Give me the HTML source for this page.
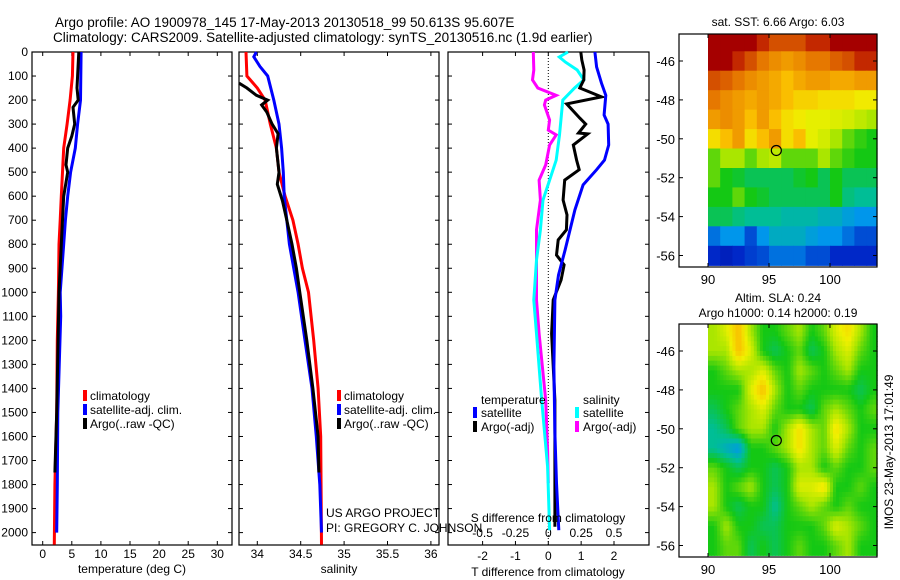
<!DOCTYPE html>
<html><head><meta charset="utf-8"><style>
body{margin:0;background:#fff}
svg{display:block;font-family:"Liberation Sans",sans-serif}
text{fill:#000}
</style></head><body>
<svg id="fig" width="900" height="580" viewBox="0 0 900 580">
<text x="55" y="27" font-size="13.5">Argo profile: AO 1900978_145 17-May-2013 20130518_99 50.613S 95.607E</text>
<text x="53" y="42" font-size="13.5">Climatology: CARS2009. Satellite-adjusted climatology: synTS_20130516.nc (1.9d earlier)</text>
<g id="g"></g>
</svg>
<script>
// ---- data ----
const tClimD=[0,100,200,300,400,500,600,700,800,1000,1200,1500,1800,2050];
const tClimV=[5.2,5.1,4.7,4.2,3.6,3.4,3.2,3.0,2.8,2.7,2.5,2.4,2.1,2.0];
const tSatD=[0,200,300,400,500,600,700,800,1000,1100,1500,1800,2000];
const tSatV=[6.6,6.5,6.0,5.6,4.8,4.3,3.9,3.6,3.0,3.1,2.6,2.5,2.4];
const tArgoD=[0,100,150,200,230,300,350,400,470,500,600,800,1000,1500,1750];
const tArgoV=[6.2,6.0,5.9,6.1,5.2,5.5,5.0,4.3,4.0,4.3,3.6,3.2,2.8,2.4,2.1];
const sClimD=[0,100,150,200,300,400,500,600,700,800,900,1000,1200,1400,1600,2050];
const sClimV=[33.87,33.88,34.0,34.09,34.15,34.22,34.25,34.32,34.41,34.47,34.52,34.59,34.65,34.70,34.73,34.74];
const sSatD=[0,20,60,100,200,300,400,500,600,700,800,1000,1200,1400,1600,1800,2000];
const sSatV=[33.99,33.96,34.03,34.12,34.19,34.25,34.28,34.30,34.31,34.34,34.37,34.47,34.55,34.63,34.68,34.72,34.74];
const sArgoD=[130,150,180,200,220,250,300,340,400,500,550,620,700,800,900,1000,1200,1400,1600,1750];
const sArgoV=[33.79,33.88,33.99,34.12,34.05,34.11,34.17,34.24,34.22,34.25,34.23,34.29,34.34,34.40,34.45,34.49,34.57,34.64,34.70,34.71];
const dtSatD=[0,62,130,180,262,300,387,450,490,553,657,824,928,1032,1310,1586,1794,1990];
const dtSatV=[1.42,1.47,1.62,1.75,1.7,1.82,1.84,1.71,1.47,1.06,0.81,0.51,0.31,0.2,0.17,0.2,0.25,0.32];
const dtArgoD=[0,33,75,116,150,187,216,275,300,337,341,387,450,490,533,616,678,740,782,845,886,949,1032,1172,1449,1726,1976];
const dtArgoV=[0.99,1.02,1.09,1.08,0.96,1.62,0.56,0.96,1.14,0.92,1.2,0.76,0.86,0.94,0.5,0.45,0.57,0.55,0.3,0.25,0.48,0.39,0.15,0.1,0.2,0.2,0.2];
const dsSatD=[0,21,42,75,116,150,200,262,345,450,533,616,740,866,1032,1172,1449,1726,1990];
const dsSatV=[0.15,0.084,0.13,0.22,0.27,0.2,0.11,0.1,0.085,0.06,0.01,-0.04,-0.06,-0.09,-0.11,-0.09,-0.05,-0.005,0.01];
const dsArgoD=[0,75,116,150,180,200,220,283,325,345,387,470,533,616,740,866,1032,1172,1449,1657,1794];
const dsArgoV=[-0.114,-0.11,-0.12,-0.08,0.06,-0.02,-0.03,0.01,0.0,0.06,0.01,-0.02,-0.07,-0.06,-0.09,-0.09,-0.09,-0.07,-0.02,-0.005,0.0];
const depthTicks=[0,100,200,300,400,500,600,700,800,900,1000,1100,1200,1300,1400,1500,1600,1700,1800,1900,2000];
const tTicks=[0,5,10,15,20,25,30];
const sTicks=[34,34.5,35,35.5,36];
const dtTicks=[-2,-1,0,1,2];
const dsTicks=[-0.5,-0.25,0,0.25,0.5];
const dsTickLabels=["-0.5","-0.25","0","0.25","0.5"];
const lonTicks=[90,95,100];
const latTicks=[-46,-48,-50,-52,-54,-56];
const mapLats=[-45,-46,-47,-48,-49,-50,-51,-52,-53,-54,-55,-56];
const mapLons=[90,91,92,93,94,95,96,97,98,99,100,101,102,103];
const sstGrid=[
[1,1,1,1,0.95,0.9,0.9,0.9,0.95,0.95,1,1,1,1],
[1,1,0.95,0.9,0.85,0.82,0.8,0.82,0.85,0.85,0.88,0.9,0.95,0.95],
[0.9,0.88,0.85,0.82,0.8,0.78,0.75,0.78,0.8,0.8,0.78,0.78,0.8,0.8],
[0.85,0.82,0.8,0.78,0.8,0.78,0.75,0.72,0.72,0.7,0.7,0.7,0.68,0.68],
[0.8,0.82,0.8,0.75,0.8,0.75,0.7,0.68,0.66,0.66,0.65,0.64,0.62,0.6],
[0.7,0.75,0.8,0.7,0.75,0.8,0.7,0.75,0.66,0.64,0.6,0.55,0.52,0.5],
[0.55,0.6,0.6,0.55,0.6,0.62,0.55,0.55,0.55,0.6,0.55,0.52,0.5,0.5],
[0.55,0.5,0.48,0.45,0.45,0.45,0.45,0.48,0.5,0.45,0.5,0.45,0.45,0.45],
[0.5,0.5,0.55,0.5,0.48,0.45,0.45,0.45,0.45,0.45,0.5,0.42,0.4,0.4],
[0.45,0.45,0.42,0.4,0.4,0.4,0.38,0.38,0.38,0.36,0.35,0.32,0.3,0.3],
[0.25,0.3,0.3,0.2,0.3,0.35,0.35,0.35,0.32,0.3,0.3,0.25,0.2,0.2],
[0.15,0.12,0.15,0.18,0.2,0.25,0.25,0.25,0.2,0.2,0.15,0.15,0.15,0.15]];
const slaGrid=[
[0.6,0.65,0.75,0.6,0.5,0.5,0.55,0.6,0.5,0.55,0.65,0.7,0.6,0.5],
[0.6,0.6,0.75,0.65,0.5,0.45,0.5,0.55,0.45,0.5,0.6,0.65,0.55,0.5],
[0.5,0.55,0.6,0.6,0.65,0.55,0.5,0.6,0.55,0.5,0.55,0.6,0.5,0.5],
[0.5,0.5,0.5,0.65,0.75,0.6,0.5,0.55,0.5,0.5,0.5,0.5,0.45,0.5],
[0.45,0.5,0.55,0.6,0.65,0.55,0.5,0.5,0.45,0.55,0.6,0.55,0.5,0.55],
[0.4,0.45,0.55,0.6,0.6,0.5,0.6,0.7,0.6,0.55,0.7,0.6,0.5,0.5],
[0.4,0.35,0.3,0.5,0.5,0.55,0.6,0.7,0.6,0.55,0.65,0.55,0.5,0.55],
[0.55,0.5,0.45,0.5,0.5,0.45,0.5,0.6,0.6,0.5,0.55,0.5,0.5,0.55],
[0.6,0.5,0.55,0.6,0.5,0.45,0.5,0.65,0.65,0.7,0.5,0.5,0.55,0.5],
[0.6,0.5,0.45,0.5,0.5,0.4,0.5,0.55,0.6,0.55,0.5,0.55,0.5,0.5],
[0.5,0.6,0.5,0.5,0.45,0.45,0.5,0.5,0.5,0.55,0.65,0.6,0.55,0.5],
[0.5,0.55,0.55,0.45,0.5,0.45,0.5,0.55,0.5,0.5,0.55,0.6,0.5,0.5]];
const argoLon=95.6, argoLat=-50.6;

// ---- drawing ----
const NS='http://www.w3.org/2000/svg';
const G=document.getElementById('g');
function mk(tag,at,parent){const e=document.createElementNS(NS,tag);for(const k in at)e.setAttribute(k,at[k]);(parent||G).appendChild(e);return e;}
const yD=d=>52+d*0.2403;
const xT=v=>42.7+v*5.82;
const xS=v=>257.3+(v-34)*86.8;
const xDT=v=>548.3+v*32.85;
const xDS=v=>548.3+v*131.4;

function frame(x0,x1,y0,y1,name){
  const r=mk('rect',{x:x0,y:y0,width:x1-x0,height:y1-y0,fill:'none',stroke:'#000','stroke-width':1.2});
  
  
}
function line(ds,vs,xf,col,name){
  const p=mk('polyline',{points:ds.map((d,i)=>xf(vs[i]).toFixed(1)+','+yD(d).toFixed(1)).join(' '),fill:'none',stroke:col,'stroke-width':3,'stroke-linejoin':'miter'});
  
  
}
function txt(x,y,s,name,opt){
  const t=mk('text',Object.assign({x:x,y:y,'font-size':12},opt||{}));t.textContent=s;
  
  
  return t;
}
function depthTickMarks(x0,x1,labels){
  depthTicks.forEach(d=>{const y=yD(d);
    mk('line',{x1:x0,y1:y,x2:x0+4,y2:y,stroke:'#000'});
    mk('line',{x1:x1,y1:y,x2:x1-4,y2:y,stroke:'#000'});
    if(labels)txt(28,y+4,String(d),'depth-tick-label',{'text-anchor':'end'});
  });
}
function xTickMarks(ticks,xf,y0,y1,labs,ly,name){
  ticks.forEach((v,i)=>{const x=xf(v);
    mk('line',{x1:x,y1:y1,x2:x,y2:y1-4,stroke:'#000'});
    mk('line',{x1:x,y1:y0,x2:x,y2:y0+4,stroke:'#000'});
    txt(x,ly,labs?labs[i]:String(v),name,{'text-anchor':'middle'});
  });
}
function legMark(x,y,col){mk('rect',{x:x,y:y-10,width:4,height:11,fill:col});}

// panel 1 temperature
frame(32,232,52,545,'temperature-panel');
depthTickMarks(32,232,true);
xTickMarks(tTicks,xT,52,545,null,558,'temperature-tick-label');
line(tClimD,tClimV,xT,'#f00','temperature-climatology-line');
line(tSatD,tSatV,xT,'#00f','temperature-satellite-line');
line(tArgoD,tArgoV,xT,'#000','temperature-argo-line');
txt(132,573,'temperature (deg C)','temperature-axis-title',{'text-anchor':'middle'});
[['climatology','#f00'],['satellite-adj. clim.','#00f'],['Argo(..raw -QC)','#000']].forEach((l,i)=>{legMark(83,400+i*14,l[1]);txt(90,400+i*14,l[0],'temperature-legend-entry');});

// panel 2 salinity
frame(239,439,52,545,'salinity-panel');
depthTickMarks(239,439,false);
xTickMarks(sTicks,xS,52,545,null,558,'salinity-tick-label');
line(sClimD,sClimV,xS,'#f00','salinity-climatology-line');
line(sSatD,sSatV,xS,'#00f','salinity-satellite-line');
line(sArgoD,sArgoV,xS,'#000','salinity-argo-line');
txt(339,573,'salinity','salinity-axis-title',{'text-anchor':'middle'});
[['climatology','#f00'],['satellite-adj. clim.','#00f'],['Argo(..raw -QC)','#000']].forEach((l,i)=>{legMark(337,400+i*14,l[1]);txt(344,400+i*14,l[0],'salinity-legend-entry');});
txt(326,517,'US ARGO PROJECT','project-credit');
txt(326,532,'PI: GREGORY C. JOHNSON','pi-credit');

// panel 3 differences
frame(448,649,52,545,'difference-panel');
depthTickMarks(448,649,false);
mk('line',{x1:548.3,y1:52,x2:548.3,y2:545,stroke:'#000','stroke-dasharray':'1,2'});
xTickMarks(dtTicks,xDT,52,545,null,560,'t-diff-tick-label');
dsTicks.forEach((v,i)=>txt(xDS(v),537,dsTickLabels[i],'s-diff-tick-label',{'text-anchor':'middle'}));
line(dsArgoD,dsArgoV,xDS,'#f0f','s-diff-argo-line');
line(dsSatD,dsSatV,xDS,'#0ff','s-diff-satellite-line');
line(dtArgoD,dtArgoV,xDT,'#000','t-diff-argo-line');
line(dtSatD,dtSatV,xDT,'#00f','t-diff-satellite-line');
txt(548,522,'S difference from climatology','s-diff-axis-title',{'text-anchor':'middle'});
txt(548,576,'T difference from climatology','t-diff-axis-title',{'text-anchor':'middle'});
txt(481,404,'temperature','legend-temperature-heading');
legMark(473,417,'#00f');txt(481,417,'satellite','legend-t-satellite');
legMark(473,431,'#000');txt(481,431,'Argo(-adj)','legend-t-argo');
txt(583,404,'salinity','legend-salinity-heading');
legMark(575,417,'#0ff');txt(583,417,'satellite','legend-s-satellite');
legMark(575,431,'#f0f');txt(583,431,'Argo(-adj)','legend-s-argo');

// maps
const cmStops=[[0,[0,0,140]],[0.15,[0,40,200]],[0.3,[0,150,235]],[0.4,[0,190,150]],[0.5,[20,200,20]],[0.6,[170,230,0]],[0.67,[240,240,0]],[0.75,[250,190,0]],[0.85,[230,120,0]],[0.95,[195,40,0]],[1,[165,0,0]]];
function cmap(v){
  v=Math.max(0,Math.min(1,v));
  for(let i=1;i<cmStops.length;i++){if(v<=cmStops[i][0]){const a=cmStops[i-1],b=cmStops[i];const t=(v-a[0])/(b[0]-a[0]);
    return 'rgb('+a[1].map((c,k)=>Math.round(c+(b[1][k]-c)*t)).join(',')+')';}}
  return 'rgb(165,0,0)';
}
function sample(grid,fi,fj){
  const i0=Math.max(0,Math.min(grid.length-1,Math.floor(fi))),i1=Math.min(grid.length-1,i0+1);
  const j0=Math.max(0,Math.min(grid[0].length-1,Math.floor(fj))),j1=Math.min(grid[0].length-1,j0+1);
  const ti=Math.max(0,Math.min(1,fi-i0)),tj=Math.max(0,Math.min(1,fj-j0));
  const a=grid[i0][j0]*(1-tj)+grid[i0][j1]*tj,b=grid[i1][j0]*(1-tj)+grid[i1][j1]*tj;
  return a*(1-ti)+b*ti;
}
function map(top,bot,latRef,grid,smooth,name){
  const x0=679,x1=877;
  const xL=lon=>708+(lon-90)*12.2;
  const yL=lat=>latRef+(-46-lat)*19.45;
  const gm=mk('g',{});
  
  
  const sub=smooth?4:1;
  mapLats.forEach((lat,i)=>mapLons.forEach((lon,j)=>{
    for(let a=0;a<sub;a++)for(let b=0;b<sub;b++){
      const la0=lat+0.5-a/sub, la1=lat+0.5-(a+1)/sub;
      const lo0=lon+b/sub, lo1=lon+(b+1)/sub;
      const xa=xL(lo0),xb=Math.min(xL(lo1),x1);
      const ya=Math.max(yL(la0),top),yb=Math.min(yL(la1),bot);
      if(xb<=xa||yb<=ya)continue;
      const v=smooth?sample(grid,i-0.5+(a+0.5)/sub,j-0.5+(b+0.5)/sub):grid[i][j];
      const c=mk('rect',{x:xa.toFixed(1),y:ya.toFixed(1),width:(xb-xa+0.6).toFixed(1),height:(yb-ya+0.6).toFixed(1),fill:cmap(v)},gm);
      
      
    }
  }));
  const ci=mk('circle',{cx:xL(argoLon),cy:yL(argoLat),r:5,fill:'none',stroke:'#000','stroke-width':1.2});
  
  
  frame(x0,x1,top,bot,name+'-frame');
  lonTicks.forEach(l=>{const x=xL(l);mk('line',{x1:x,y1:bot,x2:x,y2:bot-4,stroke:'#000'});mk('line',{x1:x,y1:top,x2:x,y2:top+4,stroke:'#000'});
    txt(x,bot+17,String(l),'map-lon-label',{'text-anchor':'middle','font-size':13});});
  latTicks.forEach(l=>{const y=yL(l);mk('line',{x1:x1,y1:y,x2:x1-4,y2:y,stroke:'#000'});mk('line',{x1:x0,y1:y,x2:x0+4,y2:y,stroke:'#000'});
    txt(675,y+5,String(l),'map-lat-label',{'text-anchor':'end','font-size':13});});
}
txt(778,26,'sat. SST: 6.66 Argo: 6.03','sst-map-title',{'text-anchor':'middle'});
map(34,267,61,sstGrid,false,'sst-map');
txt(778,302,'Altim. SLA: 0.24','sla-map-title',{'text-anchor':'middle'});
txt(778,317,'Argo h1000: 0.14 h2000: 0.19','sla-map-subtitle',{'text-anchor':'middle'});
map(324,557,351,slaGrid,true,'sla-map');
txt(0,0,'IMOS 23-May-2013 17:01:49','timestamp-label',{transform:'translate(893,452) rotate(-90)','text-anchor':'middle'});
</script>
</body></html>
